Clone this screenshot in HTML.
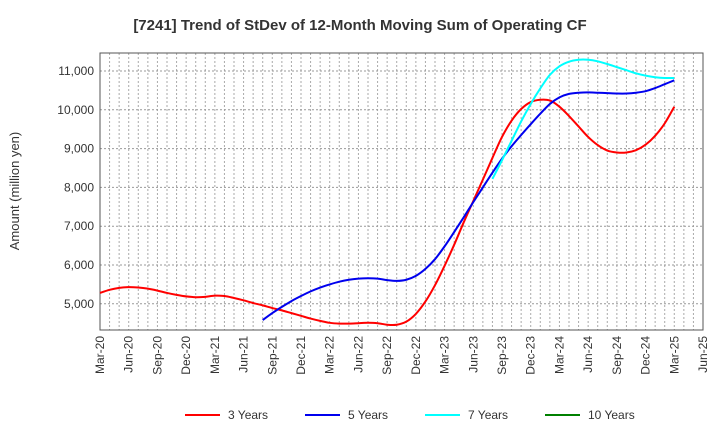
<!DOCTYPE html>
<html><head><meta charset="utf-8"><style>
body{margin:0;background:#fff;font-family:"Liberation Sans",sans-serif;}
svg text{font-family:"Liberation Sans",sans-serif;}
</style></head><body>
<svg id="chart" width="720" height="440" xmlns="http://www.w3.org/2000/svg">
<text x="360" y="30" text-anchor="middle" font-size="15" font-weight="bold" fill="#333">[7241]  Trend of StDev of 12-Month Moving Sum of Operating CF</text>
<text transform="translate(19,191) rotate(-90)" text-anchor="middle" font-size="13" fill="#333">Amount (million yen)</text>
<g id="grid"></g><g id="axes"></g><g id="series"></g><g id="legend"></g>
</svg>
<script>
const xLabels=["Mar-20","Jun-20","Sep-20","Dec-20","Mar-21","Jun-21","Sep-21","Dec-21","Mar-22","Jun-22","Sep-22","Dec-22","Mar-23","Jun-23","Sep-23","Dec-23","Mar-24","Jun-24","Sep-24","Dec-24","Mar-25","Jun-25"];
const yTicks=[5000,6000,7000,8000,9000,10000,11000];
const red=[5280,5360,5410,5430,5420,5390,5340,5280,5230,5190,5170,5180,5210,5200,5150,5090,5020,4960,4890,4830,4760,4690,4620,4560,4510,4490,4490,4500,4510,4500,4460,4460,4540,4740,5060,5480,5980,6520,7100,7650,8200,8760,9300,9720,10020,10200,10260,10240,10080,9840,9570,9300,9090,8950,8900,8900,8960,9100,9330,9650,10080];
const blueStart=17;
const blue=[4580,4760,4920,5070,5200,5320,5420,5500,5570,5620,5650,5660,5650,5610,5590,5620,5720,5900,6150,6480,6850,7230,7620,8000,8380,8740,9060,9350,9630,9900,10150,10320,10410,10440,10450,10440,10430,10420,10420,10440,10480,10560,10660,10760];
const cyanStart=41;
const cyan=[8220,8700,9200,9700,10150,10550,10900,11120,11240,11290,11290,11250,11180,11100,11020,10940,10880,10840,10820,10820];
const L=100,R=703,T=53,B=330,months=63;
const xs=i=>L+(R-L)*i/months;
const ys=v=>71+(11000-v)/1000*38.8;
const NS="http://www.w3.org/2000/svg";
function mk(tag,attrs,parent){const e=document.createElementNS(NS,tag);for(const k in attrs)e.setAttribute(k,attrs[k]);parent.appendChild(e);return e;}
const grid=document.getElementById('grid'),axes=document.getElementById('axes'),series=document.getElementById('series'),legend=document.getElementById('legend');
mk('rect',{x:L,y:T,width:R-L,height:B-T,fill:'#fff'},grid);
for(let i=1;i<months;i++){const l=mk('line',{x1:xs(i),x2:xs(i),y1:T,y2:B,stroke:'#aaa','stroke-dasharray':'2,2','stroke-width':1},grid);

}
yTicks.forEach(v=>{const l=mk('line',{x1:L,x2:R,y1:ys(v),y2:ys(v),stroke:'#999','stroke-dasharray':'2,2'},grid);


const t=mk('text',{x:L-6,y:ys(v)+4,'text-anchor':'end','font-size':12,fill:'#333'},axes);t.textContent=v.toLocaleString('en-US');

});
const fr=mk('rect',{x:L,y:T,width:R-L,height:B-T,fill:'none',stroke:'#555'},axes);


xLabels.forEach((s,i)=>{const x=xs(i*3);const t=mk('text',{transform:`translate(${x+4},${B+6}) rotate(-90)`,'text-anchor':'end','font-size':12,fill:'#333'},axes);t.textContent=s;

});
function path(vals,start){const p=vals.map((v,i)=>[xs(start+i),ys(v)]);let d=`M${p[0][0]},${p[0][1]}`;
for(let i=0;i<p.length-1;i++){const p0=p[Math.max(0,i-1)],p1=p[i],p2=p[i+1],p3=p[Math.min(p.length-1,i+2)];
d+=` C${p1[0]+(p2[0]-p0[0])/6},${p1[1]+(p2[1]-p0[1])/6} ${p2[0]-(p3[0]-p1[0])/6},${p2[1]-(p3[1]-p1[1])/6} ${p2[0]},${p2[1]}`;}return d;}
[[red,0,'#ff0000','red-line-3-years'],[blue,blueStart,'#0000ee','blue-line-5-years'],[cyan,cyanStart,'#00ffff','cyan-line-7-years']].forEach(([v,s,c,n])=>{
const e=mk('path',{d:path(v,s),fill:'none',stroke:c,'stroke-width':2},series);

});
[['3 Years','#ff0000',185],['5 Years','#0000ee',305],['7 Years','#00ffff',425],['10 Years','#008000',545]].forEach(([s,c,x])=>{
const g=mk('g',{},legend);


mk('line',{x1:x,x2:x+35,y1:415,y2:415,stroke:c,'stroke-width':2},g);
const t=mk('text',{x:x+43,y:419,'font-size':12,fill:'#333'},g);t.textContent=s;});
</script>
</body></html>
